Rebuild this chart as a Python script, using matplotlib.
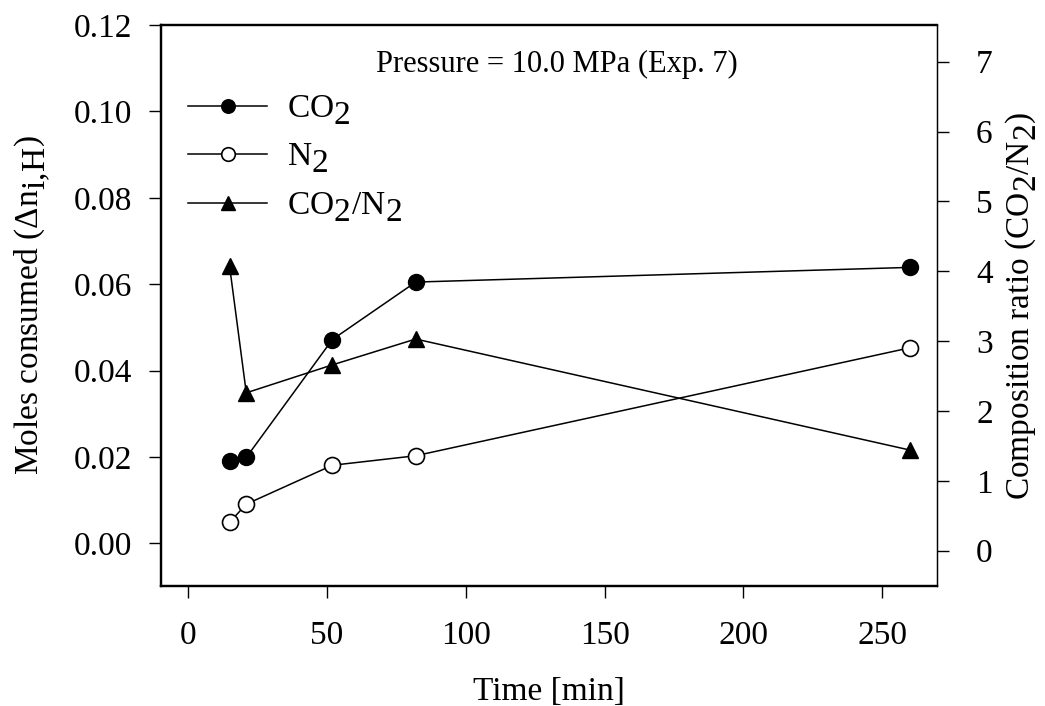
import matplotlib
matplotlib.use("Agg")
import matplotlib.pyplot as plt
try:
    import matplotlib._mathtext as _mt
    _mt.SHRINK_FACTOR = 1.0
    _mt.FontConstantsBase.sub1 = 0.45
except Exception:
    pass

plt.rcParams['font.family'] = ['Liberation Serif', 'DejaVu Serif']
plt.rcParams['mathtext.fontset'] = 'custom'
plt.rcParams['mathtext.rm'] = 'Liberation Serif'
plt.rcParams['mathtext.it'] = 'Liberation Serif:italic'

time_min = [15, 21, 52, 82, 260]
co2_moles = [0.0192, 0.0199, 0.0472, 0.0605, 0.0639]
n2_moles = [0.0049, 0.0091, 0.0181, 0.0203, 0.0453]
ratio = [4.07, 2.26, 2.66, 3.03, 1.44]

left_ticks = [0.00, 0.02, 0.04, 0.06, 0.08, 0.10, 0.12]
right_ticks = [0, 1, 2, 3, 4, 5, 6, 7]
x_ticks = [0, 50, 100, 150, 200, 250]

fig = plt.figure(figsize=(10.45, 7.06), dpi=100)
ax = fig.add_axes([161/1045, 1-585.5/706, (936.5-161)/1045, (585.5-25)/706])
ax2 = ax.twinx()

fs = 24
lw = 1.1
ms = 11.5

l1, = ax.plot(time_min, co2_moles, color='black', lw=lw, marker='o', ms=ms,
              mfc='black', mec='black', mew=1.0, label=r'CO$_2$')
l2, = ax.plot(time_min, n2_moles, color='black', lw=lw, marker='o', ms=ms,
              mfc='white', mec='black', mew=1.2, label=r'N$_2$')
l3, = ax2.plot(time_min, ratio, color='black', lw=lw, marker='^', ms=ms,
               mfc='black', mec='black', label=r'CO$_2$/N$_2$')

ax.set_xlim(-9.7, 269.5)
ax.set_ylim(-0.00973, 0.12)
ax2.set_ylim(-0.498, 7.525)

ax.set_xticks(x_ticks)
ax.set_yticks(left_ticks)
ax.set_yticklabels([f"{v:.2f}" for v in left_ticks])
ax2.set_yticks(right_ticks)

for a in (ax, ax2):
    a.tick_params(direction='out', length=8.5, width=1.0, labelsize=fs)
ax.tick_params(axis='y', pad=12)
ax.tick_params(axis='x', pad=17)
ax2.tick_params(axis='y', pad=20)

for s in ['left', 'bottom', 'top']:
    ax.spines[s].set_linewidth(1.6)
    ax2.spines[s].set_linewidth(1.6)
ax.spines['right'].set_linewidth(0.9)
ax2.spines['right'].set_linewidth(0.9)

ax.set_xlabel('Time [min]', fontsize=fs, labelpad=18)
ax.set_ylabel(r'Moles consumed ($\mathrm{\Delta n_{i,\!H}}$)', fontsize=fs, labelpad=16)
ax2.set_ylabel(r'Composition ratio (CO$_2$/N$_2$)', fontsize=fs, labelpad=8)

ax.text(0.51, 0.93, 'Pressure = 10.0 MPa (Exp. 7)', transform=ax.transAxes,
        ha='center', va='center', fontsize=22)

leg = ax.legend(handles=[l1, l2, l3], loc='upper left', bbox_to_anchor=(0.0352, 0.878),
                frameon=False, fontsize=fs, handlelength=2.37, handletextpad=0.58,
                labelspacing=0.465, borderaxespad=0, borderpad=0, markerscale=0.85)

fig.savefig('out.png', dpi=100)
